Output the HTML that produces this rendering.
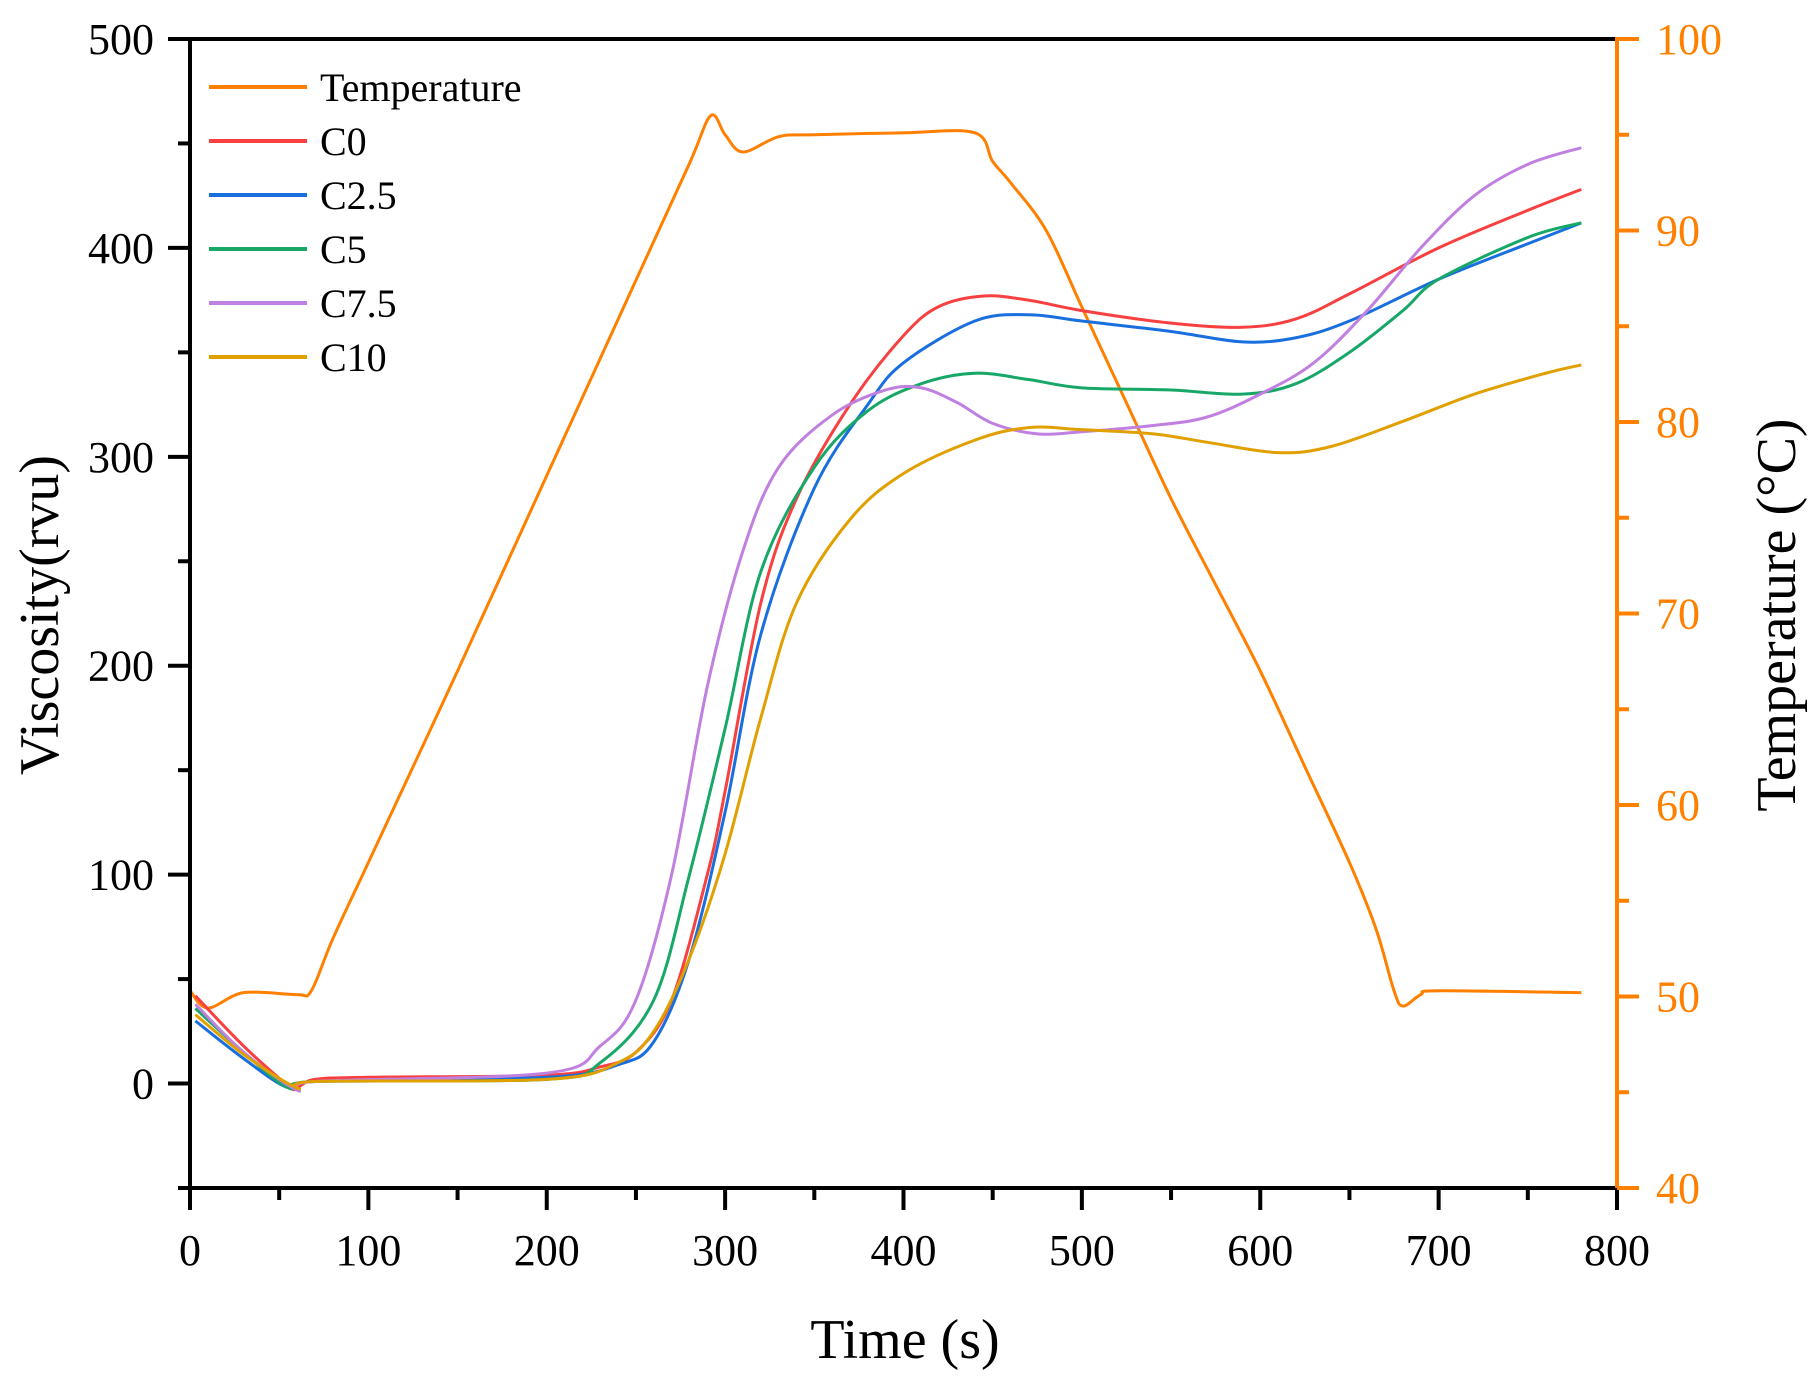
<!DOCTYPE html>
<html><head><meta charset="utf-8"><style>
html,body{margin:0;padding:0;background:#fff}
svg{display:block;font-family:"Liberation Serif",serif}
</style></head><body>
<svg id="chart" width="1819" height="1380" viewBox="0 0 1819 1380" xmlns="http://www.w3.org/2000/svg"></svg>
<script>
const xTicks=[0,100,200,300,400,500,600,700,800];
const yTicks=[0,100,200,300,400,500];
const tTicks=[40,50,60,70,80,90,100];
const tempT=[0,10,30,60,68,80,100,150,200,250,280,292,300,310,330,350,400,440,450,460,480,500,525,550,575,600,625,650,665,675,680,690,700,780];
const tempV=[50.3,49.4,50.2,50.1,50.3,53,57,67,77.2,87.4,93.5,96,95,94.1,94.9,95,95.1,95.1,93.6,92.5,90,86,81,76,71.5,67,62,57,53.5,50.3,49.5,50.1,50.3,50.2];
const c0T=[3,30,55,60,70,100,200,230,250,270,290,300,320,340,370,400,420,445,470,500,550,590,620,650,700,750,780];
const c0V=[42,18,-1,-2,2,3,4,8,15,40,100,140,230,280,325,358,372,377,375,370,364,362,366,378,400,418,428];
const c25T=[3,30,55,70,200,240,260,280,300,320,350,380,400,440,470,500,550,590,620,650,700,750,780];
const c25V=[30,12,-2,1,3,9,20,60,130,215,285,325,345,365,368,365,360,355,357,365,385,402,412];
const c5T=[3,30,55,70,200,230,260,280,300,320,350,380,410,440,470,500,550,590,620,650,680,700,750,780];
const c5V=[36,15,-2,1,2,10,40,100,170,245,295,322,335,340,337,333,332,330,335,350,370,385,405,412];
const c75T=[3,30,60,70,200,230,250,270,290,310,330,360,390,410,430,450,475,500,540,570,600,630,660,690,720,750,780];
const c75V=[38,15,-3,1,5,18,40,100,190,255,295,320,332,333,326,316,311,312,315,319,330,345,370,400,425,440,448];
const c10T=[3,30,60,70,200,240,260,280,300,320,340,370,400,440,470,500,540,570,610,640,680,720,760,780];
const c10V=[33,14,-2,1,2,10,25,60,110,175,230,270,292,308,314,313,311,307,302,305,317,330,340,344];
const L=190,R=1617,T=39,B=1188;
const xs=v=>L+(v/800)*(R-L);
const ys=v=>B-((v+50)/550)*(B-T);
const ts=v=>B-((v-40)/60)*(B-T);
const svg=document.getElementById('chart');
const NS='http://www.w3.org/2000/svg';
function mk(tag,attrs,txt){const e=document.createElementNS(NS,tag);for(const k in attrs)e.setAttribute(k,attrs[k]);if(txt!==undefined)e.textContent=txt;svg.appendChild(e);return e;}
function path(tArr,vArr,yf){
  const p=tArr.map((t,i)=>[xs(t),yf(vArr[i])]);
  let d='M'+p[0][0]+','+p[0][1];
  for(let i=0;i<p.length-1;i++){
    const p0=p[i-1]||p[i],p1=p[i],p2=p[i+1],p3=p[i+2]||p2;
    const c1x=p1[0]+(p2[0]-p0[0])/6,c1y=p1[1]+(p2[1]-p0[1])/6;
    const c2x=p2[0]-(p3[0]-p1[0])/6,c2y=p2[1]-(p3[1]-p1[1])/6;
    d+=' C'+c1x+','+c1y+' '+c2x+','+c2y+' '+p2[0]+','+p2[1];
  }
  return d;
}
const series=[
 {n:'temperature',t:tempT,v:tempV,y:ts,c:'#ff8000',label:'Temperature'},
 {n:'c0',t:c0T,v:c0V,y:ys,c:'#f84040',label:'C0'},
 {n:'c2-5',t:c25T,v:c25V,y:ys,c:'#1a6fdf',label:'C2.5'},
 {n:'c5',t:c5T,v:c5V,y:ys,c:'#17a868',label:'C5'},
 {n:'c7-5',t:c75T,v:c75V,y:ys,c:'#c080e0',label:'C7.5'},
 {n:'c10',t:c10T,v:c10V,y:ys,c:'#e0a000',label:'C10'}
];
series.forEach(s=>{
  const e=mk('path',{d:path(s.t,s.v,s.y),fill:'none',stroke:s.c,'stroke-width':3});
  
  
});
let e;
e=mk('line',{x1:L,y1:T,x2:R,y2:T,stroke:'#000','stroke-width':4});

e=mk('line',{x1:L,y1:T-2,x2:L,y2:B+2,stroke:'#000','stroke-width':4});

e=mk('line',{x1:L-2,y1:B,x2:R,y2:B,stroke:'#000','stroke-width':4});

e=mk('line',{x1:R,y1:T-2,x2:R,y2:B+2,stroke:'#ff8000','stroke-width':4});

for(let v=0;v<=800;v+=50){const maj=v%100===0;
  e=mk('line',{x1:xs(v),y1:B,x2:xs(v),y2:B+(maj?22:12),stroke:'#000','stroke-width':4});
  }
xTicks.forEach(v=>{e=mk('text',{x:xs(v),y:1265,'font-size':44,'text-anchor':'middle',fill:'#000'},String(v));
  });
for(let v=-50;v<=500;v+=50){const maj=v%100===0;
  e=mk('line',{x1:L-(maj?22:12),y1:ys(v),x2:L,y2:ys(v),stroke:'#000','stroke-width':4});
  }
yTicks.forEach(v=>{e=mk('text',{x:154,y:ys(v)+15,'font-size':44,'text-anchor':'end',fill:'#000'},String(v));
  });
for(let v=40;v<=100;v+=5){const maj=v%10===0;
  e=mk('line',{x1:R,y1:ts(v),x2:R+(maj?22:12),y2:ts(v),stroke:'#ff8000','stroke-width':4});
  }
tTicks.forEach(v=>{e=mk('text',{x:1656,y:ts(v)+15,'font-size':44,fill:'#ff8000'},String(v));
  });
e=mk('text',{x:905,y:1358,'font-size':56,'text-anchor':'middle',fill:'#000'},'Time (s)');

e=mk('text',{x:0,y:0,'font-size':56,'text-anchor':'middle',fill:'#000',transform:'translate(58,615) rotate(-90)'},'Viscosity(rvu)');

e=mk('text',{x:0,y:0,'font-size':56,'text-anchor':'middle',fill:'#000',transform:'translate(1795,615) rotate(-90)'},'Temperature (°C)');

series.forEach((s,i)=>{const y=87+i*54;
  e=mk('line',{x1:209,y1:y,x2:307,y2:y,stroke:s.c,'stroke-width':4});
  
  e=mk('text',{x:320,y:y+14,'font-size':40,fill:'#000'},s.label);
  
});
</script>
</body></html>
